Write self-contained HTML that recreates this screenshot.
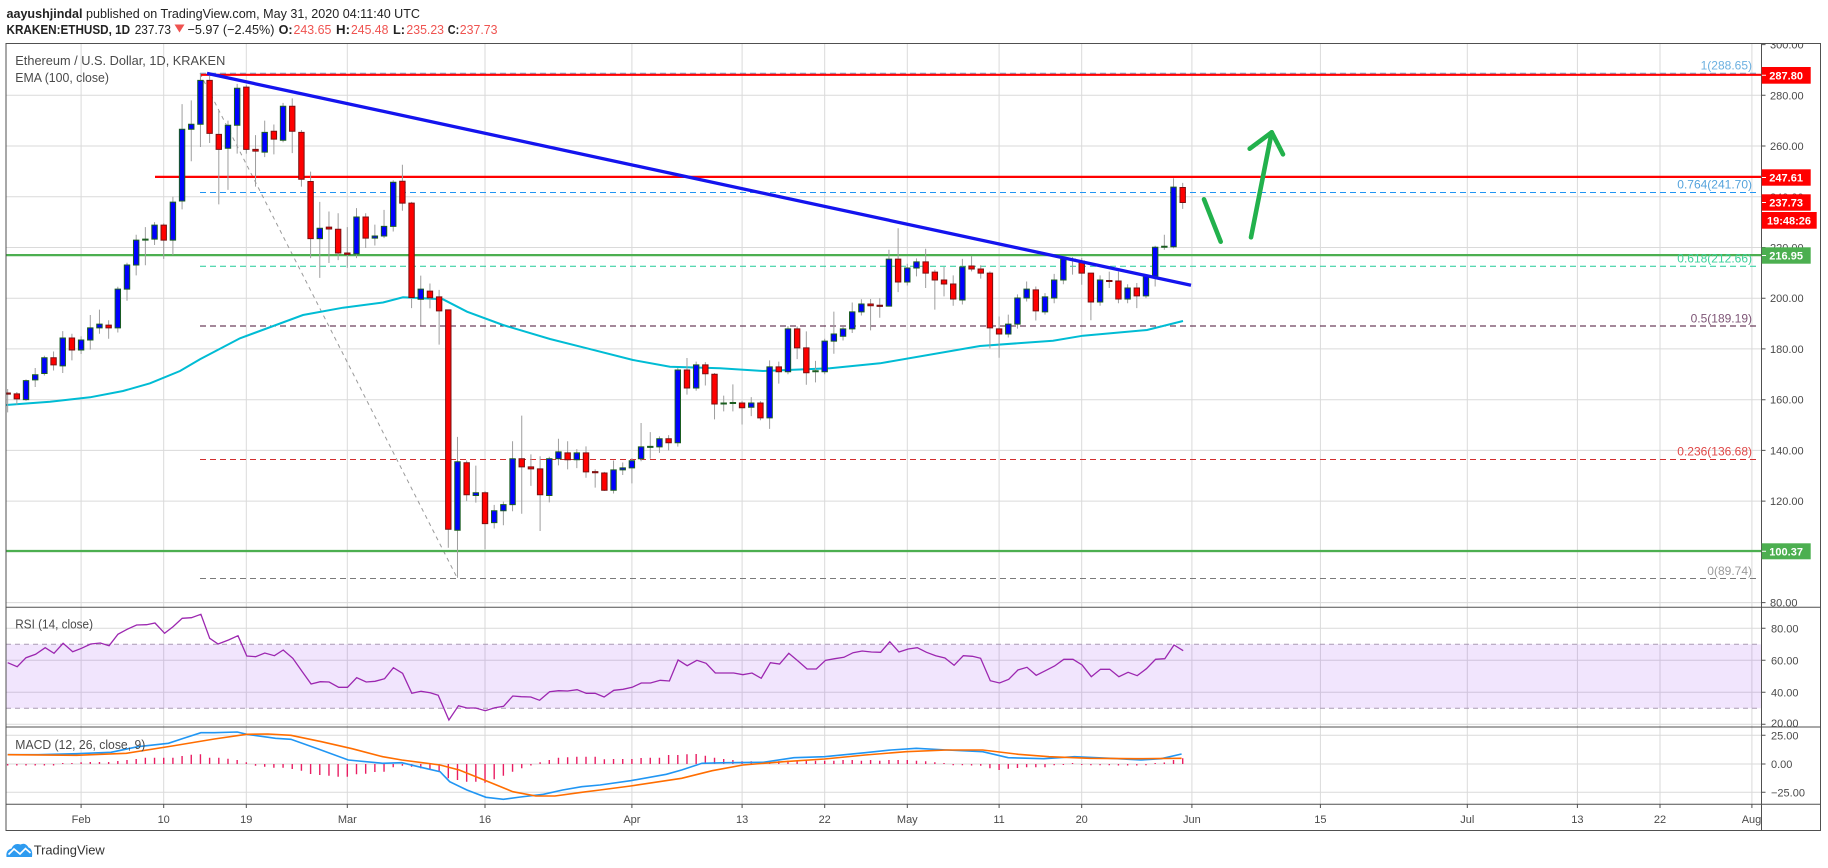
<!DOCTYPE html>
<html><head><meta charset="utf-8"><style>
body{margin:0;background:#fff}
svg{display:block}
text{font-family:"Liberation Sans",sans-serif}
</style></head><body>
<svg xmlns="http://www.w3.org/2000/svg" width="1828" height="868" viewBox="0 0 1828 868">
<rect width="1828" height="868" fill="#fff"/>
<defs>
<clipPath id="axc"><rect x="1762" y="43.5" width="59" height="563.5"/></clipPath>
<clipPath id="mainc"><rect x="6" y="43.5" width="1755.5" height="563.5"/></clipPath>
</defs>

<!-- header -->
<text x="6.5" y="18" font-size="13" font-weight="bold" fill="#222" textLength="76" lengthAdjust="spacingAndGlyphs">aayushjindal</text>
<text x="86" y="18" font-size="13" fill="#222" textLength="334" lengthAdjust="spacingAndGlyphs">published on TradingView.com, May 31, 2020 04:11:40 UTC</text>
<text x="6.5" y="34" font-size="13" font-weight="bold" fill="#222" textLength="123.6" lengthAdjust="spacingAndGlyphs">KRAKEN:ETHUSD, 1D</text>
<text x="134.7" y="34" font-size="13" fill="#222" textLength="36.3" lengthAdjust="spacingAndGlyphs">237.73</text>
<polygon points="174.5,24.5 184.5,24.5 179.5,32.5" fill="#ef5350"/>
<text x="187.5" y="34" font-size="13" fill="#222" textLength="86.9" lengthAdjust="spacingAndGlyphs">−5.97 (−2.45%)</text>
<text x="278.6" y="34" font-size="13" font-weight="bold" fill="#222" textLength="14" lengthAdjust="spacingAndGlyphs">O:</text>
<text x="293.5" y="34" font-size="13" fill="#ef5350" textLength="37.9" lengthAdjust="spacingAndGlyphs">243.65</text>
<text x="336" y="34" font-size="13" font-weight="bold" fill="#222" textLength="14" lengthAdjust="spacingAndGlyphs">H:</text>
<text x="351" y="34" font-size="13" fill="#ef5350" textLength="37.4" lengthAdjust="spacingAndGlyphs">245.48</text>
<text x="393" y="34" font-size="13" font-weight="bold" fill="#222" textLength="12" lengthAdjust="spacingAndGlyphs">L:</text>
<text x="406.4" y="34" font-size="13" fill="#ef5350" textLength="37.6" lengthAdjust="spacingAndGlyphs">235.23</text>
<text x="447.8" y="34" font-size="13" font-weight="bold" fill="#222" textLength="11.4" lengthAdjust="spacingAndGlyphs">C:</text>
<text x="459.8" y="34" font-size="13" fill="#ef5350" textLength="37.7" lengthAdjust="spacingAndGlyphs">237.73</text>

<!-- grid -->
<g stroke="#dadada" stroke-width="1" fill="none">
<path d="M6 95.3H1761M6 146H1761M6 196.8H1761M6 247.5H1761M6 298.2H1761M6 348.9H1761M6 399.7H1761M6 450.4H1761M6 501.1H1761M6 551.8H1761M6 602.6H1761"/>
<path d="M6 628.3H1761M6 660.3H1761M6 692.3H1761M6 724.3H1761"/>
<path d="M6 735.3H1761M6 764H1761M6 792.3H1761"/>
<path d="M81.1 43.5V804M163.7 43.5V804M246.3 43.5V804M347.3 43.5V804M485 43.5V804M631.9 43.5V804M742.1 43.5V804M824.7 43.5V804M907.3 43.5V804M999.1 43.5V804M1081.7 43.5V804M1191.9 43.5V804M1320.4 43.5V804M1467.3 43.5V804M1577.4 43.5V804M1660 43.5V804M1751.9 43.5V804"/>
</g>

<!-- RSI band -->
<rect x="6" y="644.3" width="1755.5" height="64" fill="rgba(140,40,240,0.12)"/>
<path d="M6 644.3H1761M6 708.3H1761" stroke="#aa9cb4" stroke-width="1" stroke-dasharray="5,4" fill="none"/>

<g clip-path="url(#mainc)">
<!-- fib lines -->
<g stroke-width="1" stroke-dasharray="6,4" fill="none">
<path d="M200 73.3H1757" stroke="#6fa3cc"/>
<path d="M200 192.5H1757" stroke="#2196f3"/>
<path d="M200 266.3H1757" stroke="#22cc99"/>
<path d="M200 326H1757" stroke="#4a1035"/>
<path d="M200 459.5H1757" stroke="#d32f2f"/>
<path d="M200 578.5H1757" stroke="#7a7a7a"/>
</g>
<path d="M200 73.3L457.5 578.5" stroke="#9a9a9a" stroke-width="1" stroke-dasharray="4,4" fill="none"/>

<!-- horizontal levels -->
<path d="M200 74.8H1762" stroke="#ff0000" stroke-width="2.2"/>
<path d="M155 176.9H1762" stroke="#ff0000" stroke-width="2.2"/>
<path d="M6 255.1H1762" stroke="#4caf50" stroke-width="2.2"/>
<path d="M6 551H1762" stroke="#4caf50" stroke-width="2.2"/>

<!-- EMA -->
<polyline fill="none" stroke="#00bcd4" stroke-width="2" points="6,405 50,401.7 90,397.3 123,391 150,383.3 180,371 200,359.3 240,338.3 303,315 343,307.7 383,302.5 403,297.3 443,299.3 467,311.7 503,325 550,339 583,347.3 633,360 670,366.7 720,368.3 763,371 830,368.3 880,363.3 980,346 1053,340.7 1083,335.7 1147,330 1183,321"/>

<!-- candles -->
<g transform="matrix(1,0,0,-2.5363,0,805.46)">
<path fill="none" stroke="#9e9e9e" stroke-width="1" vector-effect="non-scaling-stroke" d="M7.66 155V164.2M16.84 158V163M26.02 159.5V168M35.2 165V172.5M44.38 169.5V177.3M53.56 171.5V179M62.74 170.5V187M71.92 175.5V186M81.1 178V185M90.28 179.7V193.4M99.46 186V195.5M108.64 184V191.3M117.82 186.5V204.5M127 199V214M136.18 209V225M145.36 213V228M154.54 221V230M163.72 215.5V229.5M172.9 217V240M182.08 235V276.5M191.26 254V278M200.44 259.6V288.6M209.62 261.2V288.5M218.8 237V274M227.98 242.7V270M237.16 257V284.5M246.34 257V284M255.52 244V264.3M264.7 255.6V270M273.88 256.7V268.5M283.06 261.5V277M292.24 257.2V278.8M301.42 244V266.3M310.6 215.8V249.9M319.78 208V238M328.96 213.9V234.2M338.14 215V233.5M347.32 212V228M356.5 215.8V235.5M365.68 219.8V233.5M374.86 220.8V229M384.04 223.7V234.8M393.22 226.3V246.5M402.4 234.5V252.6M411.58 196.1V238M420.76 189.2V208.9M429.94 196V205.8M439.12 181.7V203.3M448.3 101.6V195.5M457.48 89.8V145.3M466.66 120V136M475.84 119.4V134M485.02 101V124M494.2 109.2V118.5M503.38 110.5V119.8M512.56 116V143.6M521.74 115V153.7M530.92 126V138.4M540.1 108.2V137.7M549.28 119.5V137.5M558.46 134.1V144.6M567.64 132.5V143.6M576.82 133V140.5M586 129.2V141.6M595.18 125.3V132.5M604.36 124V131.5M613.54 123V136M622.72 130.3V135.2M631.9 127V137M641.08 135.7V150.8M650.26 136.7V147.2M659.44 139V145.5M668.62 140V146M677.8 141.5V172.5M686.98 162V176.4M696.16 163.5V175M705.34 165.6V174.8M714.52 152.2V170.5M723.7 155.4V161.6M732.88 155.4V166M742.06 150.2V159.4M751.24 153.5V161M760.42 151.9V159.4M769.6 148.5V175.5M778.78 166.3V175M787.96 170V189M797.14 176V188.9M806.32 165.9V186.9M815.5 166.8V175.3M824.68 170V184M833.86 178.1V194.7M843.04 183.3V189M852.22 186.3V198.3M861.4 193.2V199.6M870.58 187.3V199.7M879.76 192.3V200M888.94 196.8V219.1M898.12 202.4V227.6M907.3 205V213.6M916.48 208.6V215.7M925.66 204V219.5M934.84 195.5V211.2M944.02 200.7V212.3M953.2 197V209M962.38 197.5V215.5M971.56 210.6V216.7M980.74 207.7V213M989.92 180.2V210.6M999.1 176.5V192.8M1008.28 184.5V193.5M1017.46 188V201.5M1026.64 198.7V206.6M1035.82 191.2V204.6M1045 193.5V202M1054.18 198V209.6M1063.36 205.5V216.4M1072.54 209.3V216.2M1081.72 205.3V215.8M1090.9 191.3V209.9M1100.08 197V209M1109.26 204V210.5M1118.44 198V210.5M1127.62 198V205.5M1136.8 196.1V206M1145.98 200V209.5M1155.16 204.6V220.7M1164.34 219.1V225M1173.52 219.7V247.3M1182.7 235.23V245.48"/>
<g fill="#0000ff" stroke="#1b5e20" stroke-width="1" vector-effect="non-scaling-stroke">
<rect vector-effect="non-scaling-stroke" x="23.32" y="160" width="5.4" height="7.5"/>
<rect vector-effect="non-scaling-stroke" x="32.5" y="167.8" width="5.4" height="2"/>
<rect vector-effect="non-scaling-stroke" x="41.68" y="170.3" width="5.4" height="6.2"/>
<rect vector-effect="non-scaling-stroke" x="60.04" y="173.3" width="5.4" height="11"/>
<rect vector-effect="non-scaling-stroke" x="78.4" y="179.6" width="5.4" height="3.9"/>
<rect vector-effect="non-scaling-stroke" x="87.58" y="183.5" width="5.4" height="4.8"/>
<rect vector-effect="non-scaling-stroke" x="96.76" y="188.3" width="5.4" height="1.5"/>
<rect vector-effect="non-scaling-stroke" x="115.12" y="188.3" width="5.4" height="15.3"/>
<rect vector-effect="non-scaling-stroke" x="124.3" y="203.6" width="5.4" height="9.5"/>
<rect vector-effect="non-scaling-stroke" x="133.48" y="213.1" width="5.4" height="9.8"/>
<rect vector-effect="non-scaling-stroke" x="142.66" y="222.9" width="5.4" height="0.4"/>
<rect vector-effect="non-scaling-stroke" x="151.84" y="223.3" width="5.4" height="5.5"/>
<rect vector-effect="non-scaling-stroke" x="170.2" y="222.9" width="5.4" height="15"/>
<rect vector-effect="non-scaling-stroke" x="179.38" y="238.3" width="5.4" height="28.3"/>
<rect vector-effect="non-scaling-stroke" x="188.56" y="266.6" width="5.4" height="2"/>
<rect vector-effect="non-scaling-stroke" x="197.74" y="268.6" width="5.4" height="17.3"/>
<rect vector-effect="non-scaling-stroke" x="225.28" y="259.1" width="5.4" height="9.1"/>
<rect vector-effect="non-scaling-stroke" x="234.46" y="268.2" width="5.4" height="14.6"/>
<rect vector-effect="non-scaling-stroke" x="262" y="257.6" width="5.4" height="7.8"/>
<rect vector-effect="non-scaling-stroke" x="280.36" y="262.3" width="5.4" height="13.4"/>
<rect vector-effect="non-scaling-stroke" x="317.08" y="223.5" width="5.4" height="4.1"/>
<rect vector-effect="non-scaling-stroke" x="353.8" y="217.5" width="5.4" height="14.5"/>
<rect vector-effect="non-scaling-stroke" x="372.16" y="223.7" width="5.4" height="0.8"/>
<rect vector-effect="non-scaling-stroke" x="381.34" y="224.5" width="5.4" height="3.8"/>
<rect vector-effect="non-scaling-stroke" x="390.52" y="228.3" width="5.4" height="17.4"/>
<rect vector-effect="non-scaling-stroke" x="418.06" y="199.6" width="5.4" height="4"/>
<rect vector-effect="non-scaling-stroke" x="454.78" y="108.5" width="5.4" height="27"/>
<rect vector-effect="non-scaling-stroke" x="473.14" y="122.2" width="5.4" height="1.1"/>
<rect vector-effect="non-scaling-stroke" x="491.5" y="111.5" width="5.4" height="4.7"/>
<rect vector-effect="non-scaling-stroke" x="500.68" y="116.2" width="5.4" height="2.4"/>
<rect vector-effect="non-scaling-stroke" x="509.86" y="118.6" width="5.4" height="18.1"/>
<rect vector-effect="non-scaling-stroke" x="546.58" y="122.2" width="5.4" height="14.5"/>
<rect vector-effect="non-scaling-stroke" x="555.76" y="136.7" width="5.4" height="2.7"/>
<rect vector-effect="non-scaling-stroke" x="574.12" y="136.3" width="5.4" height="2.7"/>
<rect vector-effect="non-scaling-stroke" x="610.84" y="124.3" width="5.4" height="8"/>
<rect vector-effect="non-scaling-stroke" x="620.02" y="132.3" width="5.4" height="0.8"/>
<rect vector-effect="non-scaling-stroke" x="629.2" y="133.1" width="5.4" height="2.8"/>
<rect vector-effect="non-scaling-stroke" x="638.38" y="136.7" width="5.4" height="4.7"/>
<rect vector-effect="non-scaling-stroke" x="647.56" y="141.2" width="5.4" height="0.4"/>
<rect vector-effect="non-scaling-stroke" x="656.74" y="141.4" width="5.4" height="3.2"/>
<rect vector-effect="non-scaling-stroke" x="675.1" y="143" width="5.4" height="28.7"/>
<rect vector-effect="non-scaling-stroke" x="693.46" y="164.6" width="5.4" height="9.1"/>
<rect vector-effect="non-scaling-stroke" x="721" y="158.3" width="5.4" height="0.4"/>
<rect vector-effect="non-scaling-stroke" x="730.18" y="158.5" width="5.4" height="0.4"/>
<rect vector-effect="non-scaling-stroke" x="748.54" y="157" width="5.4" height="1.7"/>
<rect vector-effect="non-scaling-stroke" x="766.9" y="152.8" width="5.4" height="20.1"/>
<rect vector-effect="non-scaling-stroke" x="785.26" y="171" width="5.4" height="16.9"/>
<rect vector-effect="non-scaling-stroke" x="812.8" y="171" width="5.4" height="0.4"/>
<rect vector-effect="non-scaling-stroke" x="821.98" y="171" width="5.4" height="12.1"/>
<rect vector-effect="non-scaling-stroke" x="831.16" y="183.1" width="5.4" height="2.8"/>
<rect vector-effect="non-scaling-stroke" x="840.34" y="185" width="5.4" height="2.9"/>
<rect vector-effect="non-scaling-stroke" x="849.52" y="187.9" width="5.4" height="6.7"/>
<rect vector-effect="non-scaling-stroke" x="858.7" y="194.6" width="5.4" height="3.1"/>
<rect vector-effect="non-scaling-stroke" x="886.24" y="196.9" width="5.4" height="18.5"/>
<rect vector-effect="non-scaling-stroke" x="904.6" y="206.4" width="5.4" height="5.5"/>
<rect vector-effect="non-scaling-stroke" x="913.78" y="211.9" width="5.4" height="2.4"/>
<rect vector-effect="non-scaling-stroke" x="959.68" y="199.3" width="5.4" height="13"/>
<rect vector-effect="non-scaling-stroke" x="1005.58" y="185.9" width="5.4" height="3.9"/>
<rect vector-effect="non-scaling-stroke" x="1014.76" y="189.8" width="5.4" height="10.3"/>
<rect vector-effect="non-scaling-stroke" x="1023.94" y="200.1" width="5.4" height="3.5"/>
<rect vector-effect="non-scaling-stroke" x="1042.3" y="194.6" width="5.4" height="5.9"/>
<rect vector-effect="non-scaling-stroke" x="1051.48" y="200.1" width="5.4" height="7.1"/>
<rect vector-effect="non-scaling-stroke" x="1060.66" y="207.2" width="5.4" height="8.2"/>
<rect vector-effect="non-scaling-stroke" x="1097.38" y="198.5" width="5.4" height="8.7"/>
<rect vector-effect="non-scaling-stroke" x="1124.92" y="199.7" width="5.4" height="4.3"/>
<rect vector-effect="non-scaling-stroke" x="1143.28" y="200.9" width="5.4" height="7.8"/>
<rect vector-effect="non-scaling-stroke" x="1152.46" y="208.7" width="5.4" height="11.4"/>
<rect vector-effect="non-scaling-stroke" x="1161.64" y="220.1" width="5.4" height="0.4"/>
<rect vector-effect="non-scaling-stroke" x="1170.82" y="220.3" width="5.4" height="23.5"/>
</g>
<g fill="#ff0000" stroke="#7a1010" stroke-width="1">
<rect vector-effect="non-scaling-stroke" x="4.96" y="162.2" width="5.4" height="0.4"/>
<rect vector-effect="non-scaling-stroke" x="14.14" y="160.3" width="5.4" height="2"/>
<rect vector-effect="non-scaling-stroke" x="50.86" y="173.7" width="5.4" height="2.8"/>
<rect vector-effect="non-scaling-stroke" x="69.22" y="179.6" width="5.4" height="4.7"/>
<rect vector-effect="non-scaling-stroke" x="105.94" y="188.3" width="5.4" height="1.1"/>
<rect vector-effect="non-scaling-stroke" x="161.02" y="222.9" width="5.4" height="5.9"/>
<rect vector-effect="non-scaling-stroke" x="206.92" y="265" width="5.4" height="20.9"/>
<rect vector-effect="non-scaling-stroke" x="216.1" y="258.7" width="5.4" height="5.9"/>
<rect vector-effect="non-scaling-stroke" x="243.64" y="258.7" width="5.4" height="24.5"/>
<rect vector-effect="non-scaling-stroke" x="252.82" y="258" width="5.4" height="0.7"/>
<rect vector-effect="non-scaling-stroke" x="271.18" y="262.7" width="5.4" height="3.1"/>
<rect vector-effect="non-scaling-stroke" x="289.54" y="265.8" width="5.4" height="9.9"/>
<rect vector-effect="non-scaling-stroke" x="298.72" y="246.9" width="5.4" height="18.5"/>
<rect vector-effect="non-scaling-stroke" x="307.9" y="223.5" width="5.4" height="22.5"/>
<rect vector-effect="non-scaling-stroke" x="326.26" y="227.3" width="5.4" height="0.7"/>
<rect vector-effect="non-scaling-stroke" x="335.44" y="217.8" width="5.4" height="9.4"/>
<rect vector-effect="non-scaling-stroke" x="344.62" y="217.3" width="5.4" height="0.5"/>
<rect vector-effect="non-scaling-stroke" x="362.98" y="223.7" width="5.4" height="8.3"/>
<rect vector-effect="non-scaling-stroke" x="399.7" y="237.5" width="5.4" height="8.6"/>
<rect vector-effect="non-scaling-stroke" x="408.88" y="200.3" width="5.4" height="37.2"/>
<rect vector-effect="non-scaling-stroke" x="427.24" y="200.2" width="5.4" height="2.6"/>
<rect vector-effect="non-scaling-stroke" x="436.42" y="195" width="5.4" height="5.5"/>
<rect vector-effect="non-scaling-stroke" x="445.6" y="108.9" width="5.4" height="86.5"/>
<rect vector-effect="non-scaling-stroke" x="463.96" y="122.5" width="5.4" height="12.6"/>
<rect vector-effect="non-scaling-stroke" x="482.32" y="111.1" width="5.4" height="12.2"/>
<rect vector-effect="non-scaling-stroke" x="519.04" y="133.5" width="5.4" height="3.2"/>
<rect vector-effect="non-scaling-stroke" x="528.22" y="132.7" width="5.4" height="0.8"/>
<rect vector-effect="non-scaling-stroke" x="537.4" y="122.5" width="5.4" height="10.2"/>
<rect vector-effect="non-scaling-stroke" x="564.94" y="136.3" width="5.4" height="2.7"/>
<rect vector-effect="non-scaling-stroke" x="583.3" y="131.5" width="5.4" height="7.5"/>
<rect vector-effect="non-scaling-stroke" x="592.48" y="131.2" width="5.4" height="0.4"/>
<rect vector-effect="non-scaling-stroke" x="601.66" y="124.3" width="5.4" height="6.8"/>
<rect vector-effect="non-scaling-stroke" x="665.92" y="143" width="5.4" height="1.6"/>
<rect vector-effect="non-scaling-stroke" x="684.28" y="164.6" width="5.4" height="7.1"/>
<rect vector-effect="non-scaling-stroke" x="702.64" y="170.2" width="5.4" height="3.5"/>
<rect vector-effect="non-scaling-stroke" x="711.82" y="158.3" width="5.4" height="11.7"/>
<rect vector-effect="non-scaling-stroke" x="739.36" y="156.8" width="5.4" height="1.9"/>
<rect vector-effect="non-scaling-stroke" x="757.72" y="152.8" width="5.4" height="5.9"/>
<rect vector-effect="non-scaling-stroke" x="776.08" y="171" width="5.4" height="1.9"/>
<rect vector-effect="non-scaling-stroke" x="794.44" y="180.4" width="5.4" height="7.5"/>
<rect vector-effect="non-scaling-stroke" x="803.62" y="170.6" width="5.4" height="9.8"/>
<rect vector-effect="non-scaling-stroke" x="867.88" y="197" width="5.4" height="0.7"/>
<rect vector-effect="non-scaling-stroke" x="877.06" y="196.8" width="5.4" height="0.4"/>
<rect vector-effect="non-scaling-stroke" x="895.42" y="206.4" width="5.4" height="9"/>
<rect vector-effect="non-scaling-stroke" x="922.96" y="209.9" width="5.4" height="4.4"/>
<rect vector-effect="non-scaling-stroke" x="932.14" y="207.2" width="5.4" height="3.1"/>
<rect vector-effect="non-scaling-stroke" x="941.32" y="205.6" width="5.4" height="1.6"/>
<rect vector-effect="non-scaling-stroke" x="950.5" y="199.7" width="5.4" height="5.9"/>
<rect vector-effect="non-scaling-stroke" x="968.86" y="211.5" width="5.4" height="1.2"/>
<rect vector-effect="non-scaling-stroke" x="978.04" y="209.9" width="5.4" height="1.6"/>
<rect vector-effect="non-scaling-stroke" x="987.22" y="188.3" width="5.4" height="21.6"/>
<rect vector-effect="non-scaling-stroke" x="996.4" y="185.9" width="5.4" height="2"/>
<rect vector-effect="non-scaling-stroke" x="1033.12" y="195" width="5.4" height="8.3"/>
<rect vector-effect="non-scaling-stroke" x="1069.84" y="215" width="5.4" height="0.4"/>
<rect vector-effect="non-scaling-stroke" x="1079.02" y="209.9" width="5.4" height="4.7"/>
<rect vector-effect="non-scaling-stroke" x="1088.2" y="198.5" width="5.4" height="11.4"/>
<rect vector-effect="non-scaling-stroke" x="1106.56" y="206.6" width="5.4" height="0.4"/>
<rect vector-effect="non-scaling-stroke" x="1115.74" y="199.7" width="5.4" height="7.1"/>
<rect vector-effect="non-scaling-stroke" x="1134.1" y="200.9" width="5.4" height="3.1"/>
<rect vector-effect="non-scaling-stroke" x="1180" y="237.73" width="5.4" height="5.92"/>
</g>
</g>

<!-- trendline -->
<path d="M207 73.4L1191 285.3" stroke="#1414ee" stroke-width="3.3" fill="none"/>

<!-- fib labels -->
<g font-size="12" text-anchor="end">
<text x="1752" y="69.5" fill="#6cb0e0">1(288.65)</text>
<text x="1752" y="188.5" fill="#55a3dc">0.764(241.70)</text>
<text x="1752" y="262.5" fill="#3dcf9a">0.618(212.66)</text>
<text x="1752" y="322.3" fill="#7e5576">0.5(189.19)</text>
<text x="1752" y="455.7" fill="#e04848">0.236(136.68)</text>
<text x="1752" y="575" fill="#9a9a9a">0(89.74)</text>
</g>

<!-- green arrows -->
<g stroke="#22b14c" stroke-width="4.6" stroke-linecap="round" stroke-linejoin="round" fill="none">
<path d="M1204 199.3L1220.7 241.7"/>
<path d="M1251 237.3L1271.7 132.3"/>
<path d="M1249.7 148.7L1271.7 132.3L1283 154.3"/>
</g>
</g>

<!-- chart legends -->
<text x="15.3" y="65" font-size="13" fill="#4a4a4a" textLength="210" lengthAdjust="spacingAndGlyphs">Ethereum / U.S. Dollar, 1D, KRAKEN</text>
<text x="15.3" y="82" font-size="13" fill="#4a4a4a" textLength="93.7" lengthAdjust="spacingAndGlyphs">EMA (100, close)</text>

<!-- RSI -->
<polyline fill="none" stroke="#9c27b0" stroke-width="1.3" points="7.7,662.7 17.2,666.7 26,657.7 35.6,654.3 45.2,647.7 54,653.3 63.1,643.3 72.7,651.7 81.5,648.3 90.7,644 100.3,643 109.1,645.7 117.9,634.3 127.1,629.3 136.6,625 146.6,624.7 155,623 164.6,633.3 173,626.7 182.2,618.3 191.4,617.7 200.9,614.3 209.7,638.3 218.1,644 228.5,640 238,635.7 246.8,656 255.6,656.7 264.8,653 274.4,655.7 283.2,650 292.8,658.3 302.3,671.7 311.1,684 320.3,681.7 329.1,682 338.7,687.3 347.5,687.3 356.7,677.7 366.2,682 375,681.3 384.6,678.7 393.4,667.7 402.6,673.3 411.8,693.3 421,691.3 430.2,692.7 438.2,695.3 448.9,720 458.5,705.7 466.9,708 475.7,708 485.3,710.7 494.8,707.7 503.6,706.3 512.8,696 521.2,696.7 530.8,697 539.6,700.3 549.6,691.7 558.7,690.7 567.5,691 577.1,689.7 586.3,693.3 595.1,693.3 604.1,697 613.8,690.3 623,689.3 632.1,687.3 641.3,683 650.5,683 660.2,680.3 669.4,681 678.1,660 687.2,665.7 696.9,660.3 706.1,663.3 715.3,673 724.5,673 733.7,673 742.9,674.7 752,673 761.2,678.3 770.4,662.7 779.6,664 788.8,653.3 798,661 807.1,669 816.3,669 825.5,660.3 834.7,658.7 843.9,657.3 853.1,652.7 862.2,651 871.4,652 880.6,652.3 889.8,641.7 899,652 908.2,649 917.3,647.7 926.5,652.3 935.7,655.7 944.9,658 954.1,665.3 963.3,655.7 972.4,656.3 980.6,658.3 990.3,680.7 999.5,683 1008.7,679.3 1017.9,670 1027,667.3 1036.2,675.3 1045.4,670.7 1054.6,666 1063.8,659.3 1073,659.3 1082.1,665 1091.3,676.7 1100.5,669.3 1109.7,669.3 1118.9,676.7 1128.1,672.3 1137.2,675.7 1146.4,668.7 1155.6,659.3 1164.8,658.7 1174,645 1183.2,650.7"/>
<text x="15.3" y="628.5" font-size="13" fill="#4a4a4a" textLength="77.7" lengthAdjust="spacingAndGlyphs">RSI (14, close)</text>

<!-- MACD histogram -->
<path fill="none" stroke="#e91e63" stroke-width="1.4" d="M7.66 764V765.5M16.84 764V765.5M26.02 764V765.5M35.2 764V765.5M44.38 764V765.5M53.56 764V765.5M62.74 764V763M71.92 764V763M81.1 764V762.3M90.28 764V762M99.46 764V762M108.64 764V762M117.82 764V761M127 764V760M136.18 764V759M145.36 764V757.7M154.54 764V757.7M163.72 764V757.7M172.9 764V757.7M182.08 764V756M191.26 764V754.7M200.44 764V754.3M209.62 764V757.7M218.8 764V757.7M227.98 764V758.7M237.16 764V760M246.34 764V762.3M255.52 764V765.7M264.7 764V766.7M273.88 764V767.7M283.06 764V767.7M292.24 764V769M301.42 764V770.7M310.6 764V774M319.78 764V775M328.96 764V775.7M338.14 764V776.7M347.32 764V776.7M356.5 764V774.3M365.68 764V773.7M374.86 764V772M384.04 764V771.7M393.22 764V767.3M402.4 764V765.7M411.58 764V766.7M420.76 764V768.3M429.94 764V770M439.12 764V771.7M448.3 764V778.3M457.48 764V780M466.66 764V781.7M475.84 764V781.7M485.02 764V782.7M494.2 764V779.3M503.38 764V775.7M512.56 764V771.7M521.74 764V768.3M530.92 764V765.5M540.1 764V762.3M549.28 764V760M558.46 764V757.7M567.64 764V757.3M576.82 764V756.7M586 764V756.7M595.18 764V756.7M604.36 764V759.3M613.54 764V759M622.72 764V759M631.9 764V759M641.08 764V758M650.26 764V757.7M659.44 764V757.7M668.62 764V755M677.8 764V755M686.98 764V754.3M696.16 764V754M705.34 764V755.7M714.52 764V757.7M723.7 764V759M732.88 764V760M742.06 764V761.3M751.24 764V761.3M760.42 764V762.3M769.6 764V761.3M778.78 764V761.3M787.96 764V760.7M797.14 764V760.7M806.32 764V760.7M815.5 764V760.7M824.68 764V760.7M833.86 764V760.7M843.04 764V760M852.22 764V760M861.4 764V760.7M870.58 764V760M879.76 764V760.7M888.94 764V760M898.12 764V760M907.3 764V760M916.48 764V760.7M925.66 764V761.3M934.84 764V762.3M944.02 764V763M953.2 764V765.2M962.38 764V765.3M971.56 764V765.5M980.74 764V765.7M989.92 764V768.3M999.1 764V770M1008.28 764V768.7M1017.46 764V768M1026.64 764V767.3M1035.82 764V767.3M1045 764V767.3M1054.18 764V765.3M1063.36 764V765M1072.54 764V763M1081.72 764V765M1090.9 764V765.2M1100.08 764V765.2M1109.26 764V765.2M1118.44 764V765.5M1127.62 764V765.5M1136.8 764V765.5M1145.98 764V765.2M1155.16 764V763M1164.34 764V762.5M1173.52 764V760M1182.7 764V758.3"/>
<!-- MACD lines -->
<polyline fill="none" stroke="#2196f3" stroke-width="1.6" points="7.7,754.7 38.3,754.7 76.5,753.7 111,752.3 137.8,746.7 168.4,743.3 183.7,738.3 200.9,732.7 214.3,732.7 237.3,732 246.8,734.3 275.5,738.3 290.9,739.3 317.6,748.7 348.3,760 382.7,763.3 401.8,762.7 421,767.3 440.1,771.7 449.7,781.7 466.9,790 486,797.3 503.3,799.3 520.5,797 543.4,794.3 562.6,790 581.7,786.7 600,785 630.6,780.7 666.3,774.3 681.6,770 702,763.3 727.6,762.7 763.3,762.3 793.9,757.7 824.5,756.7 865.3,752.7 890.8,750 916.3,748.3 947,750 982.7,751.7 1008.2,757.7 1043.9,758.7 1074.5,756.7 1110.2,758.3 1140.8,760 1161.2,758.7 1181.6,754"/>
<polyline fill="none" stroke="#ff6d00" stroke-width="1.6" points="7.7,754.7 76.5,755.3 126.3,753.3 172.2,746 214.3,739 246.5,734.3 267.9,734 290.9,735.3 321.5,741.7 352.1,748.7 382.7,756.7 401.8,760 440.1,765 459.2,770 486,780.7 512.8,791.7 535.8,796 554.9,796 581.7,792.3 600,790 630.6,786 681.6,778.3 712.2,770.7 742.9,765 783.7,761.7 824.5,759 865.3,755 906.1,751.7 947,750 982.7,750 1018.4,754.3 1049,756.7 1089.8,758.3 1135.7,758.7 1181.6,758.3"/>
<text x="15.3" y="749" font-size="13" fill="#4a4a4a" textLength="130" lengthAdjust="spacingAndGlyphs">MACD (12, 26, close, 9)</text>

<!-- frame -->
<g stroke="#505050" stroke-width="1" fill="none">
<rect x="6" y="43.5" width="1814.5" height="787"/>
<path d="M1761.5 43.5V830.5"/>
<path d="M6 607.3H1820.5M6 727H1820.5M6 804.3H1820.5"/>
</g>

<!-- price axis -->
<g stroke="#505050" stroke-width="1">
<path d="M1761.5 44.6H1765.5M1761.5 95.3H1765.5M1761.5 146H1765.5M1761.5 196.8H1765.5M1761.5 247.5H1765.5M1761.5 298.2H1765.5M1761.5 348.9H1765.5M1761.5 399.7H1765.5M1761.5 450.4H1765.5M1761.5 501.1H1765.5M1761.5 551.8H1765.5M1761.5 602.6H1765.5"/>
<path d="M1761.5 628.3H1765.5M1761.5 660.3H1765.5M1761.5 692.3H1765.5M1761.5 724.3H1765.5M1761.5 735.3H1765.5M1761.5 764H1765.5M1761.5 792.3H1765.5"/>
<path d="M81.1 804.3V808M163.7 804.3V808M246.3 804.3V808M347.3 804.3V808M485 804.3V808M631.9 804.3V808M742.1 804.3V808M824.7 804.3V808M907.3 804.3V808M999.1 804.3V808M1081.7 804.3V808M1191.9 804.3V808M1320.4 804.3V808M1467.3 804.3V808M1577.4 804.3V808M1660 804.3V808M1751.9 804.3V808"/>
</g>
<g font-size="11" fill="#4a4a4a">
<g clip-path="url(#axc)">
<text x="1770" y="48.6">300.00</text>
<text x="1770" y="99.3">280.00</text>
<text x="1770" y="150">260.00</text>
<text x="1770" y="200.8">240.00</text>
<text x="1770" y="251.5">220.00</text>
<text x="1770" y="302.2">200.00</text>
<text x="1770" y="352.9">180.00</text>
<text x="1770" y="403.7">160.00</text>
<text x="1770" y="454.4">140.00</text>
<text x="1770" y="505.1">120.00</text>
<text x="1770" y="555.8">100.00</text>
<text x="1770" y="606.6">80.00</text>
</g>
<text x="1771" y="632.3">80.00</text>
<text x="1771" y="664.3">60.00</text>
<text x="1771" y="696.3">40.00</text>
<text x="1771" y="727">20.00</text>
<text x="1771" y="739.3">25.00</text>
<text x="1771" y="768">0.00</text>
<text x="1771" y="796.3">−25.00</text>
</g>

<!-- price boxes -->
<rect x="1761.7" y="67" width="49" height="16.7" fill="#ff0000"/>
<rect x="1761.7" y="169.3" width="49" height="16.4" fill="#ff0000"/>
<rect x="1761.7" y="194.3" width="49" height="16.4" fill="#ff0000"/>
<rect x="1761.7" y="212" width="55" height="16.7" fill="#ff0000"/>
<rect x="1761.7" y="247.3" width="49" height="16.4" fill="#4caf50"/>
<rect x="1761.7" y="543.3" width="49" height="16" fill="#4caf50"/>
<path d="M1762 75.3H1766M1762 177.5H1766M1762 202.5H1766M1762 255.5H1766M1762 551.3H1766" stroke="#fff" stroke-width="1"/>
<g font-size="11" font-weight="bold" fill="#fff">
<text x="1769.3" y="79.5">287.80</text>
<text x="1769.3" y="181.6">247.61</text>
<text x="1769.3" y="206.6">237.73</text>
<text x="1767" y="224.4">19:48:26</text>
<text x="1769.3" y="259.6">216.95</text>
<text x="1769.3" y="555.4">100.37</text>
</g>

<!-- time axis labels -->
<g font-size="11" fill="#4a4a4a" text-anchor="middle">
<text x="81.1" y="823">Feb</text>
<text x="163.7" y="823">10</text>
<text x="246.3" y="823">19</text>
<text x="347.3" y="823">Mar</text>
<text x="485" y="823">16</text>
<text x="631.9" y="823">Apr</text>
<text x="742.1" y="823">13</text>
<text x="824.7" y="823">22</text>
<text x="907.3" y="823">May</text>
<text x="999.1" y="823">11</text>
<text x="1081.7" y="823">20</text>
<text x="1191.9" y="823">Jun</text>
<text x="1320.4" y="823">15</text>
<text x="1467.3" y="823">Jul</text>
<text x="1577.4" y="823">13</text>
<text x="1660" y="823">22</text>
<text x="1751.5" y="823">Aug</text>
</g>

<!-- TradingView logo -->
<path d="M6.5 857 Q5.5 850 11.5 848.5 Q14 842.5 20.5 844.5 Q25.5 842 28.5 847.5 Q33 849 32 857 Z" fill="#2e9bf0"/>
<polyline points="8.5,854.5 14,849 20,854 25.5,848.5 30.5,853" fill="none" stroke="#fff" stroke-width="1.6"/>
<text x="33.7" y="854.5" font-size="13" fill="#333" textLength="71" lengthAdjust="spacingAndGlyphs">TradingView</text>
</svg>
</body></html>
